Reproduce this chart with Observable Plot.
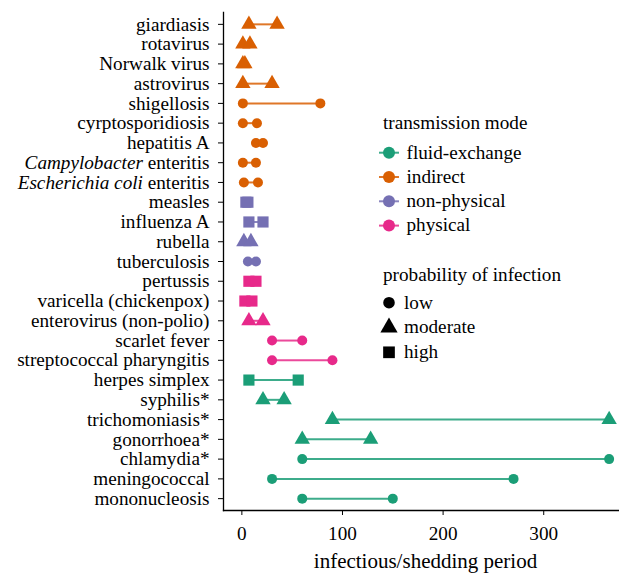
<!DOCTYPE html>
<html>
<head>
<meta charset="utf-8">
<script src="https://cdn.jsdelivr.net/npm/d3@7"></script>
<script src="https://cdn.jsdelivr.net/npm/@observablehq/plot@0.6"></script>
<style>
  html, body { margin: 0; padding: 0; background: white; overflow: hidden; }
  #wrap { position: relative; width: 619px; height: 573px; overflow: hidden; }
  #wrap svg { max-width: none !important; }
  #legend { position: absolute; left: 0; top: 0; pointer-events: none; }
  svg text { font-family: "Liberation Serif", "Times New Roman", serif; }
</style>
</head>
<body>
<div id="wrap"></div>
<script>
const diseases = [
  "giardiasis", "rotavirus", "Norwalk virus", "astrovirus", "shigellosis",
  "cyrptosporidiosis", "hepatitis A", "Campylobacter enteritis", "Escherichia coli enteritis",
  "measles", "influenza A", "rubella", "tuberculosis",
  "pertussis", "varicella (chickenpox)", "enterovirus (non-polio)", "scarlet fever", "streptococcal pharyngitis",
  "herpes simplex", "syphilis*", "trichomoniasis*", "gonorrhoea*", "chlamydia*", "meningococcal", "mononucleosis"
];
const modes = [
  "indirect", "indirect", "indirect", "indirect", "indirect",
  "indirect", "indirect", "indirect", "indirect",
  "non-physical", "non-physical", "non-physical", "non-physical",
  "physical", "physical", "physical", "physical", "physical",
  "fluid-exchange", "fluid-exchange", "fluid-exchange", "fluid-exchange", "fluid-exchange", "fluid-exchange", "fluid-exchange"
];
const probability = [
  "moderate", "moderate", "moderate", "moderate", "low",
  "low", "low", "low", "low",
  "high", "high", "moderate", "low",
  "high", "high", "moderate", "low", "low",
  "high", "moderate", "moderate", "moderate", "low", "low", "low"
];
const lower = [7, 1, 1, 1, 1, 1, 14, 1, 2, 4, 7, 2, 6, 7, 3, 7, 30, 30, 7, 21, 90, 60, 60, 30, 60];
const upper = [35, 8, 3, 30, 78, 15, 21, 14, 16, 6, 21, 9, 14, 14, 10, 21, 60, 90, 56, 42, 365, 128, 365, 270, 150];

const modeDomain = ["fluid-exchange", "indirect", "non-physical", "physical"];
const modeColors = ["#1b9e77", "#d95f02", "#7570b3", "#e7298a"];
const probDomain = ["low", "moderate", "high"];
const probSymbols = ["circle", "triangle", "square"];
const xTicks = [0, 100, 200, 300];
const xTitle = "infectious/shedding period";

const rows = diseases.map((d, i) => ({disease: d, mode: modes[i], prob: probability[i], lo: lower[i], hi: upper[i]}));
const pts = rows.flatMap(d => [{...d, v: d.lo}, {...d, v: d.hi}]);
const sizes = {low: 5, moderate: 5.7, high: 6.3};

const FS = "19.2px";
const chart = Plot.plot({
  width: 627, height: 573,
  marginLeft: 223, marginRight: 0, marginTop: 12, marginBottom: 63,
  style: {fontFamily: "'Liberation Serif', 'Times New Roman', serif", fontSize: FS, color: "black", background: "white", overflow: "visible", maxWidth: "none"},
  x: {domain: [-18.25, 383.25]},
  y: {type: "point", domain: diseases, padding: 0.6, round: false},
  color: {domain: modeDomain, range: modeColors},
  symbol: {domain: probDomain, range: probSymbols},
  marks: [
    Plot.axisY({tickSize: 5, tickPadding: 9, label: null, fontSize: FS}),
    Plot.axisX({ticks: xTicks, tickSize: 5, tickPadding: 10.5, fontSize: FS, label: xTitle, labelAnchor: "center", labelArrow: "none", labelOffset: 57.5}),
    Plot.frame({anchor: "left", stroke: "black", strokeWidth: 1.3}),
    Plot.frame({anchor: "bottom", stroke: "black", strokeWidth: 1.3}),
    Plot.ruleY(rows, {y: "disease", x1: "lo", x2: "hi", stroke: "mode", strokeWidth: 2, strokeOpacity: 0.85}),
    ...probDomain.map(p => Plot.dot(pts.filter(d => d.prob === p), {x: "v", y: "disease", fill: "mode", symbol: "prob", r: sizes[p], stroke: "none"}))
  ]
});
document.getElementById("wrap").appendChild(chart);

const ns = "http://www.w3.org/2000/svg";
const italics = {"Campylobacter enteritis": ["Campylobacter", " enteritis"], "Escherichia coli enteritis": ["Escherichia coli", " enteritis"]};
chart.querySelectorAll("text").forEach(t => {
  const s = t.textContent;
  if (italics[s]) {
    const [a, b] = italics[s];
    t.textContent = "";
    const t1 = document.createElementNS(ns, "tspan"); t1.setAttribute("font-style", "italic"); t1.textContent = a;
    const t2 = document.createElementNS(ns, "tspan"); t2.textContent = b;
    t.appendChild(t1); t.appendChild(t2);
  }
  if (s === xTitle) t.style.fontSize = "21px";
});

// legend
const lg = d3.select("#wrap").append("svg").attr("id", "legend").attr("width", 619).attr("height", 573)
  .style("font-family", "'Liberation Serif', 'Times New Roman', serif").style("font-size", FS);
lg.append("text").attr("x", 383).attr("y", 128.5).text("transmission mode");
modeDomain.forEach((m, i) => {
  const cy = 152.7 + i * 24.3;
  lg.append("line").attr("x1", 379).attr("x2", 399).attr("y1", cy).attr("y2", cy).attr("stroke", modeColors[i]).attr("stroke-width", 2).attr("stroke-opacity", 0.85);
  lg.append("circle").attr("cx", 389).attr("cy", cy).attr("r", 6).attr("fill", modeColors[i]);
  lg.append("text").attr("x", 406.5).attr("y", cy + 5.8).text(m);
});
lg.append("text").attr("x", 383).attr("y", 280.5).text("probability of infection");
const symMap = {circle: d3.symbolCircle, triangle: d3.symbolTriangle, square: d3.symbolSquare};
probDomain.forEach((p, i) => {
  const cy = 302.7 + i * 24.8;
  const r = [5.8, 6.4, 6.6][i];
  lg.append("path").attr("transform", `translate(389,${cy})`).attr("d", d3.symbol(symMap[probSymbols[i]], Math.PI * r * r)()).attr("fill", "black");
  lg.append("text").attr("x", 404).attr("y", cy + 5.8).text(p);
});
</script>
</body>
</html>
